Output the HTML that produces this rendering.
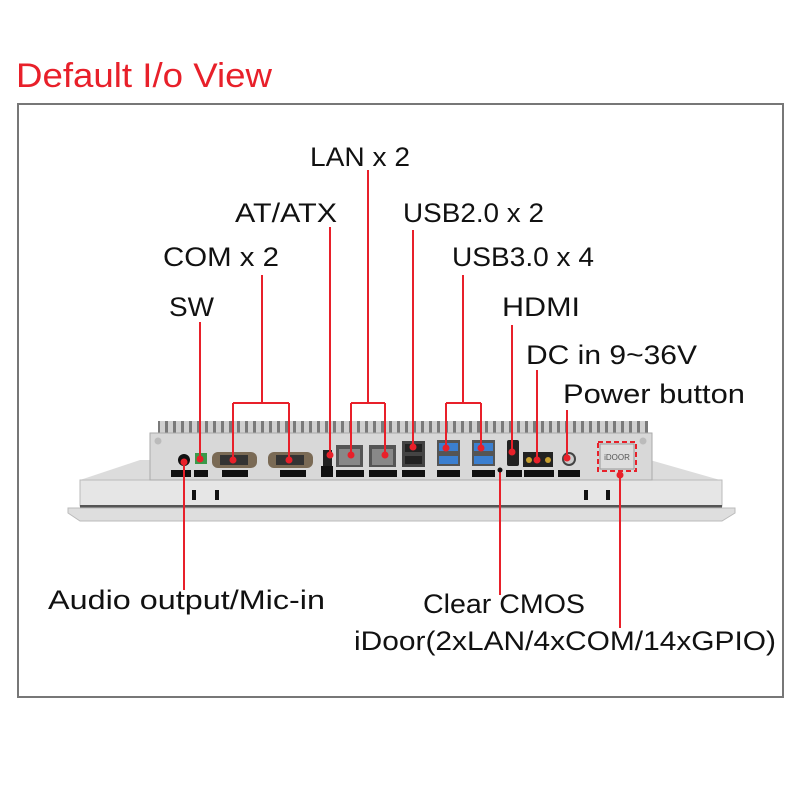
<!DOCTYPE html>
<html><head><meta charset="utf-8"><style>
html,body{margin:0;padding:0;background:#fff;width:800px;height:800px;overflow:hidden}
svg{display:block}
text{font-family:"Liberation Sans",sans-serif}
</style></head><body>
<svg width="800" height="800" viewBox="0 0 800 800">
<defs>
<pattern id="fins" width="8" height="14" patternUnits="userSpaceOnUse"><rect width="8" height="14" fill="#d0d0d0"/><rect x="5" width="3" height="14" fill="#7a7a7a"/></pattern>
</defs>
<text x="16" y="87" font-size="34" fill="#e8202a" textLength="256" lengthAdjust="spacingAndGlyphs">Default I/o View</text>
<rect x="18" y="104" width="765" height="593" fill="none" stroke="#777" stroke-width="2"/>

<!-- bezel -->
<polygon points="140,460 650,460 720,480 80,480" fill="#dcdcdc"/>
<rect x="80" y="480" width="642" height="26" fill="#e6e6e6" stroke="#bbb" stroke-width="1"/>
<rect x="80" y="505" width="642" height="3" fill="#555"/>
<polygon points="68,508 735,508 735,513 722,521 80,521 68,513" fill="#dedede" stroke="#bbb" stroke-width="1"/>
<rect x="192" y="490" width="4" height="10" fill="#111"/><rect x="215" y="490" width="4" height="10" fill="#111"/>
<rect x="584" y="490" width="4" height="10" fill="#111"/><rect x="606" y="490" width="4" height="10" fill="#111"/>

<!-- fins -->
<rect x="158" y="421" width="490" height="13" fill="url(#fins)"/>
<!-- body -->
<rect x="150" y="433" width="502" height="47" fill="#d8d8d8" stroke="#aaa"/>
<circle cx="158" cy="441" r="3.5" fill="#bbb"/><circle cx="643" cy="441" r="3.5" fill="#bbb"/>
<!-- ports -->
<circle cx="184" cy="460" r="6" fill="#111"/>
<rect x="195" y="453" width="12" height="11" fill="#3a9a4a"/>
<rect x="212" y="452" width="45" height="16" rx="6" fill="#7a6a55"/><rect x="220" y="455" width="28" height="10" fill="#333"/>
<rect x="268" y="452" width="45" height="16" rx="6" fill="#7a6a55"/><rect x="276" y="455" width="28" height="10" fill="#333"/>
<rect x="323" y="450" width="9" height="16" fill="#222"/>
<rect x="336" y="445" width="27" height="22" fill="#555"/><rect x="339" y="449" width="21" height="16" fill="#888"/>
<rect x="369" y="445" width="27" height="22" fill="#555"/><rect x="372" y="449" width="21" height="16" fill="#888"/>
<rect x="402" y="441" width="23" height="26" fill="#444"/><rect x="405" y="444" width="17" height="8" fill="#222"/><rect x="405" y="456" width="17" height="8" fill="#222"/>
<rect x="437" y="440" width="23" height="26" fill="#555"/><rect x="439" y="443" width="19" height="8" fill="#3b7fd0"/><rect x="439" y="456" width="19" height="8" fill="#3b7fd0"/>
<rect x="472" y="440" width="23" height="26" fill="#555"/><rect x="474" y="443" width="19" height="8" fill="#3b7fd0"/><rect x="474" y="456" width="19" height="8" fill="#3b7fd0"/>
<rect x="507" y="440" width="12" height="26" rx="2" fill="#222"/>
<rect x="523" y="452" width="30" height="15" fill="#222"/><circle cx="529" cy="460" r="3" fill="#c8a030"/><circle cx="548" cy="460" r="3" fill="#c8a030"/>
<circle cx="569" cy="459" r="6" fill="#ccc" stroke="#444" stroke-width="2"/>
<rect x="600" y="444" width="34" height="25" fill="#ddd" stroke="#999"/>
<text x="617" y="460" font-size="8" fill="#555" text-anchor="middle">iDOOR</text>
<g fill="#111">
<rect x="171" y="470" width="20" height="7"/><rect x="194" y="470" width="14" height="7"/><rect x="222" y="470" width="26" height="7"/><rect x="280" y="470" width="26" height="7"/><rect x="321" y="466" width="12" height="11"/><rect x="336" y="470" width="28" height="7"/><rect x="369" y="470" width="28" height="7"/><rect x="402" y="470" width="23" height="7"/><rect x="437" y="470" width="23" height="7"/><rect x="472" y="470" width="23" height="7"/><rect x="506" y="470" width="16" height="7"/><rect x="524" y="470" width="30" height="7"/><rect x="558" y="470" width="22" height="7"/>
</g>
<rect x="598" y="442" width="38" height="29" fill="none" stroke="#e8202a" stroke-width="2" stroke-dasharray="5,3"/>

<g stroke="#e8202a" stroke-width="2" fill="none">
<path d="M200,322 V460"/>
<path d="M262,275 V403 M233,403 H289 M233,403 V460 M289,403 V460"/>
<path d="M330,227 V455"/>
<path d="M368,170 V403 M351,403 H385 M351,403 V455 M385,403 V455"/>
<path d="M413,230 V447"/>
<path d="M463,275 V403 M446,403 H481 M446,403 V448 M481,403 V448"/>
<path d="M512,325 V452"/>
<path d="M537,370 V460"/>
<path d="M567,410 V458"/>
<path d="M184,460 V590"/>
<path d="M500,470 V595"/>
<path d="M620,475 V628"/>
</g>
<g fill="#e8202a">
<circle cx="200" cy="459" r="3.5"/><circle cx="233" cy="460" r="3.5"/><circle cx="289" cy="460" r="3.5"/><circle cx="330" cy="455" r="3.5"/><circle cx="351" cy="455" r="3.5"/><circle cx="385" cy="455" r="3.5"/><circle cx="413" cy="447" r="3.5"/><circle cx="446" cy="448" r="3.5"/><circle cx="481" cy="448" r="3.5"/><circle cx="512" cy="452" r="3.5"/><circle cx="537" cy="460" r="3.5"/><circle cx="567" cy="458" r="3.5"/><circle cx="184" cy="462" r="3.5"/><circle cx="620" cy="475" r="3.5"/>
</g>
<circle cx="500" cy="470" r="2.5" fill="#111"/>

<g font-size="27" fill="#111" lengthAdjust="spacingAndGlyphs">
<text x="310" y="166" textLength="100" lengthAdjust="spacingAndGlyphs">LAN x 2</text>
<text x="235" y="222" textLength="102" lengthAdjust="spacingAndGlyphs">AT/ATX</text>
<text x="403" y="222" textLength="141" lengthAdjust="spacingAndGlyphs">USB2.0 x 2</text>
<text x="163" y="266" textLength="116" lengthAdjust="spacingAndGlyphs">COM x 2</text>
<text x="452" y="266" textLength="142" lengthAdjust="spacingAndGlyphs">USB3.0 x 4</text>
<text x="169" y="316" textLength="45" lengthAdjust="spacingAndGlyphs">SW</text>
<text x="502" y="316" textLength="78" lengthAdjust="spacingAndGlyphs">HDMI</text>
<text x="526" y="364" textLength="171" lengthAdjust="spacingAndGlyphs">DC in 9~36V</text>
<text x="563" y="403" textLength="182" lengthAdjust="spacingAndGlyphs">Power button</text>
<text x="48" y="609" textLength="277" lengthAdjust="spacingAndGlyphs">Audio output/Mic-in</text>
<text x="423" y="613" textLength="162" lengthAdjust="spacingAndGlyphs">Clear CMOS</text>
<text x="354" y="650" textLength="422" lengthAdjust="spacingAndGlyphs">iDoor(2xLAN/4xCOM/14xGPIO)</text>
</g>
</svg>
</body></html>
